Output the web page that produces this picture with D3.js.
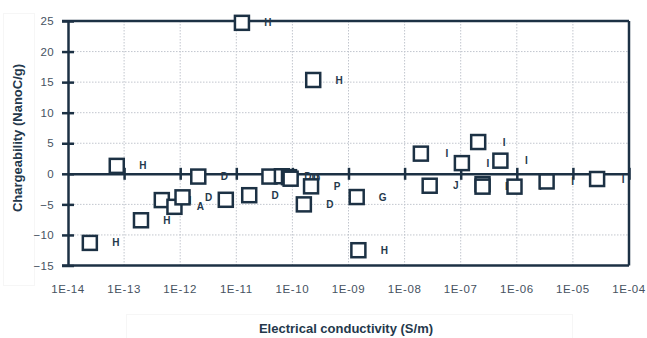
<!DOCTYPE html>
<html lang="en">
<head>
<meta charset="UTF-8">
<title>Chargeability vs conductivity</title>
<script src="https://cdn.jsdelivr.net/npm/d3@7"></script>
<style>
  body { margin: 0; background: #fff; }
  text { font-family: "Liberation Sans", Arial, sans-serif; }
</style>
</head>
<body>
<div class="chart"></div>
<script>
  // values
  const conductivity = [2.45e-14, 7.4e-14, 2.0e-13, 4.7e-13, 7.9e-13, 1.1e-12, 2.1e-12, 6.5e-12,
    1.7e-11, 1.26e-11, 2.35e-10, 3.9e-11, 6.5e-11, 8.7e-11, 9.3e-11, 2.15e-10, 1.6e-10,
    1.4e-9, 1.5e-9, 1.95e-8, 2.8e-8, 1.05e-7, 2.05e-7, 2.45e-7, 2.45e-7, 5.1e-7, 9.1e-7,
    3.4e-6, 2.7e-5];
  const chargeability = [-11.3, 1.3, -7.6, -4.3, -5.4, -3.85, -0.45, -4.25,
    -3.5, 24.7, 15.35, -0.45, -0.4, -0.55, -0.8, -2.05, -5.0,
    -3.8, -12.5, 3.3, -1.95, 1.75, 5.2, -1.7, -2.1, 2.15, -2.1,
    -1.25, -0.85];
  const labels = ['H', 'H', 'H', 'H', 'A', 'D', 'D', 'H',
    'D', 'H', 'H', 'D', 'D', 'D', 'D', 'P', 'D',
    'G', 'H', 'I', 'J', 'I', 'I', 'I', 'D', 'I', 'I',
    'I', 'I'];
  const xTicks = [1e-14, 1e-13, 1e-12, 1e-11, 1e-10, 1e-9, 1e-8, 1e-7, 1e-6, 1e-5, 1e-4];
  const yTicks = [-15, -10, -5, 0, 5, 10, 15, 20, 25];

  const W = 647, H = 338;
  const dark = '#1c3144', txt = '#46525f';
  const svg = d3.select('.chart').append('svg').attr('width', W).attr('height', H);

  const x = d3.scaleLog().domain([1e-14, 1e-4]).range([68, 629]);
  const y = d3.scaleLinear().domain([-15, 25]).range([265.5, 21]);

  // faint boxes round the axis titles
  svg.append('rect').attr('x', 3.5).attr('y', 13.5).attr('width', 31).attr('height', 272)
    .attr('fill', 'none').attr('stroke', '#f6f6f6');
  svg.append('rect').attr('x', 126.5).attr('y', 314.5).attr('width', 446).attr('height', 30)
    .attr('fill', 'none').attr('stroke', '#f6f6f6');

  // grid
  const grid = svg.append('g').attr('stroke', '#c2c6ce').attr('stroke-dasharray', '1.5,1.5').attr('stroke-width', 1);
  grid.selectAll('.gx').data(xTicks.slice(1, -1)).join('line')
    .attr('x1', d => x(d)).attr('x2', d => x(d)).attr('y1', y(25)).attr('y2', y(-15));
  grid.selectAll('.gy').data(yTicks.filter(d => d > -15 && d < 25 && d !== 0)).join('line')
    .attr('x1', x(1e-14)).attr('x2', x(1e-4)).attr('y1', d => y(d)).attr('y2', d => y(d));

  // frame
  const frame = svg.append('g').attr('stroke', dark).attr('stroke-width', 2.5).attr('fill', 'none');
  frame.append('line').attr('x1', 62).attr('x2', x(1e-4)).attr('y1', y(25)).attr('y2', y(25));
  frame.append('line').attr('x1', 62).attr('x2', x(1e-4)).attr('y1', y(-15)).attr('y2', y(-15));
  frame.append('line').attr('x1', x(1e-4)).attr('x2', x(1e-4)).attr('y1', y(25)).attr('y2', y(-15));

  // y axis
  const yAxis = d3.axisLeft(y).tickValues(yTicks).tickSizeInner(-6).tickSizeOuter(0).tickPadding(14);
  const gy = svg.append('g').attr('transform', `translate(${x(1e-14)},0)`).call(yAxis);
  gy.select('.domain').attr('stroke', dark).attr('stroke-width', 2.5);
  gy.selectAll('.tick line').attr('stroke', dark).attr('stroke-width', 2.5).attr('x1', -6).attr('x2', 6);
  gy.selectAll('.tick text').attr('fill', txt).attr('font-size', 11.5).attr('letter-spacing', 0.3);

  // x axis at zero
  const xAxis = d3.axisBottom(x).tickValues(xTicks).tickSize(0).tickFormat('');
  const gx = svg.append('g').attr('transform', `translate(0,${y(0)})`).call(xAxis);
  gx.select('.domain').attr('stroke', dark).attr('stroke-width', 2.5);
  gx.selectAll('.tick line').attr('stroke', dark).attr('stroke-width', 2.5).attr('y1', -6).attr('y2', 6);
  gx.selectAll('.tick').filter(d => d === 1e-14).remove();

  // x tick labels below the plot
  const fmt = d => '1E-' + String(-Math.round(Math.log10(d))).padStart(2, '0');
  svg.append('g').selectAll('text').data(xTicks).join('text')
    .attr('x', d => x(d)).attr('y', 293)
    .attr('text-anchor', 'middle').attr('fill', txt).attr('font-size', 11.5).attr('letter-spacing', 0.6)
    .text(fmt);

  const pts = conductivity.map((c, i) => ({c, v: chargeability[i], lab: labels[i]}));

  // point labels (drawn first, squares sit on top as in the original)
  svg.append('g').selectAll('text').data(pts).join('text')
    .attr('x', d => x(d.c) + 26).attr('y', d => y(d.v)).attr('dy', '0.36em')
    .attr('text-anchor', 'middle').attr('font-weight', 'bold').attr('font-size', 10).attr('fill', '#24384b')
    .text(d => d.lab);

  // squares
  svg.append('g').selectAll('rect').data(pts).join('rect')
    .attr('x', d => x(d.c) - 7).attr('y', d => y(d.v) - 7).attr('width', 14).attr('height', 14)
    .attr('fill', '#fff').attr('stroke', dark).attr('stroke-width', 2.5);

  // axis titles
  svg.append('text').attr('transform', 'translate(22,138) rotate(-90)')
    .attr('text-anchor', 'middle').attr('font-weight', 'bold').attr('font-size', 13).attr('fill', '#24384b')
    .text('Chargeability (NanoC/g)');
  svg.append('text').attr('x', 346).attr('y', 333)
    .attr('text-anchor', 'middle').attr('font-weight', 'bold').attr('font-size', 13).attr('fill', '#24384b')
    .text('Electrical conductivity (S/m)');
</script>
</body>
</html>
